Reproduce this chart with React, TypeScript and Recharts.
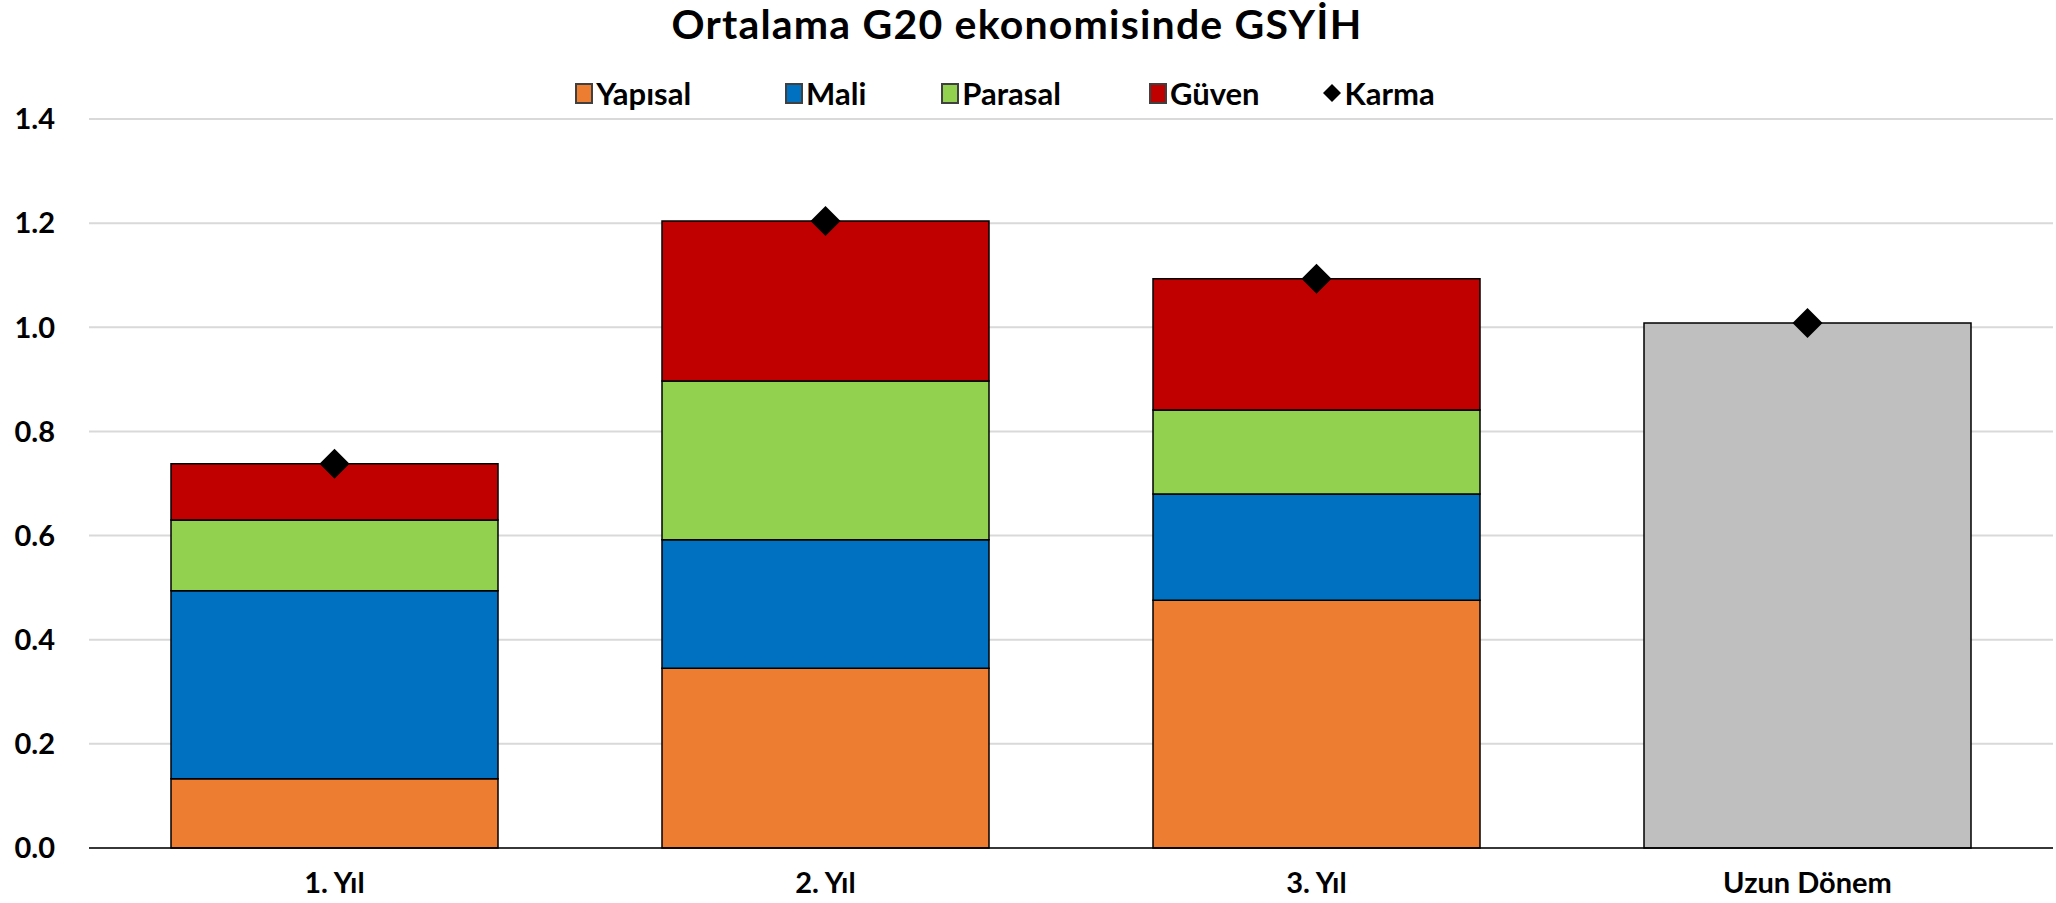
import React from 'react';
import { ComposedChart, Bar, Line, XAxis, YAxis, CartesianGrid, Legend } from 'recharts';

const categories = ['1. Yıl', '2. Yıl', '3. Yıl', 'Uzun Dönem'];
const yapisal = [0.133, 0.345, 0.476, null];
const mali = [0.361, 0.247, 0.204, null];
const parasal = [0.136, 0.305, 0.161, null];
const guven = [0.108, 0.307, 0.252, null];
const uzunDonem = [null, null, null, 1.008];
const karma = [0.738, 1.204, 1.093, 1.008];
const yTicks = [0, 0.2, 0.4, 0.6, 0.8, 1.0, 1.2, 1.4];

const seriesNames = ['Yapısal', 'Mali', 'Parasal', 'Güven', 'Karma'];
const seriesColors = ['#ED7D31', '#0070C0', '#92D050', '#C00000', '#000000'];
const longRunColor = '#BFBFBF';
const title = 'Ortalama G20 ekonomisinde GSYİH';

const data = categories.map((c, i) => ({
  name: c,
  yapisal: yapisal[i],
  mali: mali[i],
  parasal: parasal[i],
  guven: guven[i],
  uzun: uzunDonem[i],
  karma: karma[i],
}));

const FONT = 'Lato, "Liberation Sans", Arial, sans-serif';
const legendGaps = [0, 94, 75, 88, 62];

const Diamond = (props: any) => {
  const { cx, cy } = props;
  if (cx == null || cy == null) return null;
  const r = 15;
  return <polygon points={`${cx},${cy - r} ${cx + r},${cy} ${cx},${cy + r} ${cx - r},${cy}`} fill="#000" />;
};

const LegendContent = () => (
  <div
    style={{
      display: 'flex',
      justifyContent: 'center',
      alignItems: 'center',
      height: 41,
      paddingRight: 43,
      paddingBottom: 11,
      boxSizing: 'border-box',
      fontFamily: FONT,
      fontWeight: 700,
      fontSize: 31,
      color: '#000',
    }}
  >
    {seriesNames.map((n, i) => (
      <div key={n} style={{ display: 'flex', alignItems: 'center', marginLeft: legendGaps[i] }}>
        {i < 4 ? (
          <span
            style={{
              width: 14,
              height: 17,
              background: seriesColors[i],
              border: '2px solid #404040',
              display: 'inline-block',
              marginRight: 3,
            }}
          />
        ) : (
          <svg width={20} height={20} style={{ marginRight: 3 }}>
            <polygon points="10,1 19,10 10,19 1,10" fill="#000" />
          </svg>
        )}
        <span>{n}</span>
      </div>
    ))}
  </div>
);

export default function App() {
  return (
    <div style={{ position: 'absolute', left: 0, top: 0, width: 2056, height: 903, background: '#fff', fontFamily: FONT }}>
      <div
        style={{
          position: 'absolute',
          top: 0,
          left: 0,
          width: 2034,
          textAlign: 'center',
          fontSize: 41,
          fontWeight: 700,
          lineHeight: '48px',
          color: '#000',
          letterSpacing: 1.2,
        }}
      >
        {title}
      </div>
      <ComposedChart
        width={2056}
        height={903}
        data={data}
        margin={{ top: 78, right: 3, bottom: 25, left: 0 }}
        barSize={327}
      >
        <CartesianGrid vertical={false} stroke="#D9D9D9" strokeWidth={2} />
        <XAxis
          dataKey="name"
          height={30}
          axisLine={{ stroke: '#000', strokeWidth: 1.5 }}
          tickLine={false}
          tickSize={0}
          tickMargin={24}
          interval={0}
          tick={{ fill: '#000', fontSize: 29, fontWeight: 700, fontFamily: FONT }}
        />
        <YAxis
          width={89}
          domain={[0, 1.4]}
          ticks={yTicks}
          axisLine={false}
          tickLine={false}
          tickSize={34}
          tickMargin={0}
          tickFormatter={(v: number) => v.toFixed(1)}
          tick={{ fill: '#000', fontSize: 29, fontWeight: 700, fontFamily: FONT }}
        />
        <Legend verticalAlign="top" content={<LegendContent />} />
        <Bar dataKey="yapisal" stackId="a" fill={seriesColors[0]} stroke="#000" strokeWidth={1.5} isAnimationActive={false} />
        <Bar dataKey="mali" stackId="a" fill={seriesColors[1]} stroke="#000" strokeWidth={1.5} isAnimationActive={false} />
        <Bar dataKey="parasal" stackId="a" fill={seriesColors[2]} stroke="#000" strokeWidth={1.5} isAnimationActive={false} />
        <Bar dataKey="guven" stackId="a" fill={seriesColors[3]} stroke="#000" strokeWidth={1.5} isAnimationActive={false} />
        <Bar dataKey="uzun" stackId="a" fill={longRunColor} stroke="#000" strokeWidth={1.5} isAnimationActive={false} />
        <Line dataKey="karma" stroke="none" dot={<Diamond />} activeDot={false} isAnimationActive={false} legendType="none" />
      </ComposedChart>
    </div>
  );
}
